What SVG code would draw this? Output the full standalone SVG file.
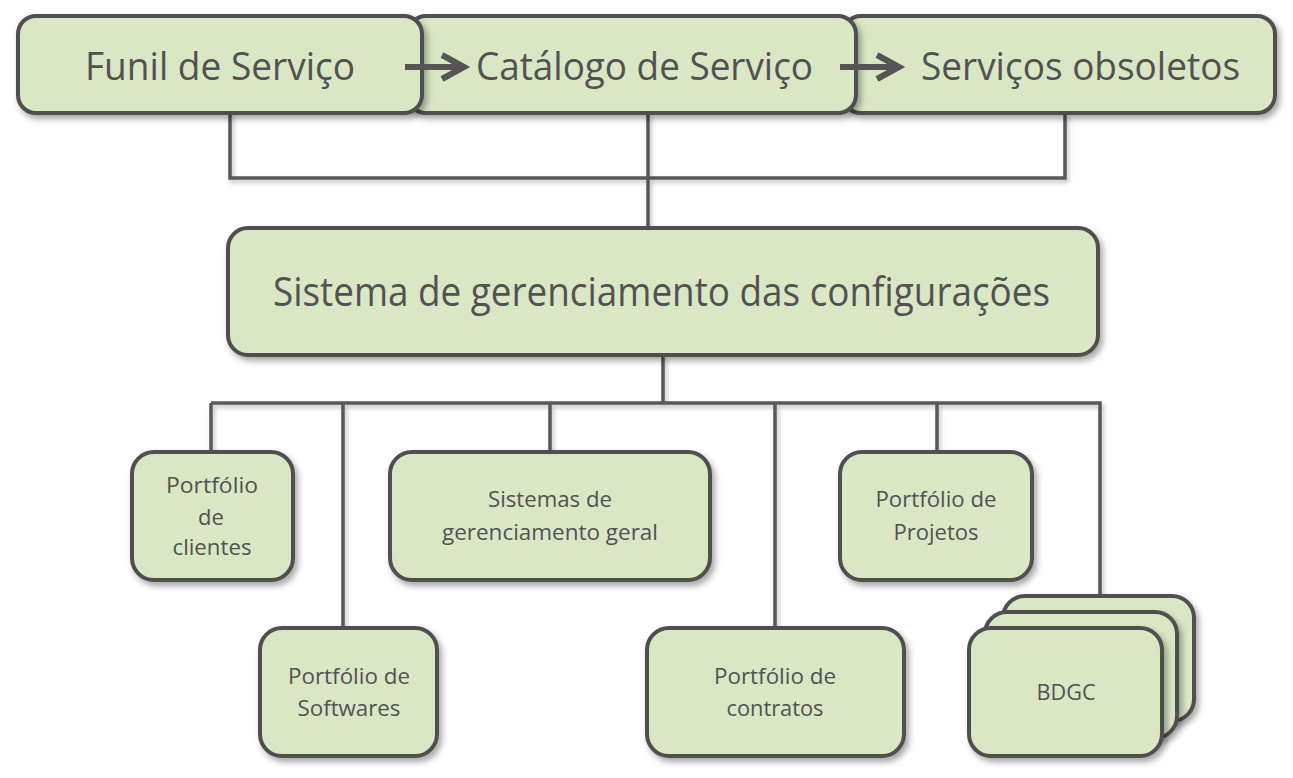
<svg xmlns="http://www.w3.org/2000/svg" width="1293" height="778" viewBox="0 0 1293 778">
<defs>
<filter id="sh" x="-10%" y="-10%" width="130%" height="140%">
<feDropShadow dx="3" dy="4" stdDeviation="3" flood-color="#000" flood-opacity="0.35"/>
</filter>
<filter id="lsh" x="-5%" y="-5%" width="110%" height="120%">
<feDropShadow dx="2" dy="3" stdDeviation="2" flood-color="#000" flood-opacity="0.25"/>
</filter>
</defs>
<style>
.box{fill:#d9e7c4;stroke:#505050;stroke-width:4;filter:url(#sh)}
.ln{fill:none;stroke:#585858;stroke-width:3.5;filter:url(#lsh)}
.big{font-family:"Open Sans","Liberation Sans",sans-serif;font-size:38px;fill:#525252}
.mid{font-family:"Open Sans","Liberation Sans",sans-serif;font-size:40px;fill:#525252}
.sm{font-family:"Open Sans","Liberation Sans",sans-serif;font-size:22px;fill:#525252;text-anchor:middle}
.arr{fill:none;stroke:#555;stroke-width:6;stroke-linejoin:miter}
</style>
<rect width="1293" height="778" fill="#fff"/>
<g id="connectors">
<path class="ln" d="M230 113 V178 H1065 V113 M648 113 V228"/>
<path class="ln" d="M663 355 V403 M211 403 H1100 V597 M211 403 V452 M343 403 V628 M550 403 V452 M775 403 V628 M937 403 V452"/>
</g>
<g id="obsoletos">
<rect class="box" x="843" y="16" width="432" height="97" rx="18"/>
<text class="big" x="921" y="80" textLength="319" lengthAdjust="spacingAndGlyphs">Serviços obsoletos</text>
</g>
<g id="catalogo">
<rect class="box" x="408" y="16" width="448" height="97" rx="18"/>
<text class="big" x="476" y="80" textLength="337" lengthAdjust="spacingAndGlyphs">Catálogo de Serviço</text>
</g>
<g id="funil">
<rect class="box" x="18" y="16" width="404" height="97" rx="18"/>
<text class="big" x="85" y="80" textLength="270" lengthAdjust="spacingAndGlyphs">Funil de Serviço</text>
</g>
<g id="arrows">
<path class="arr" d="M405 67 H462 M442 55 L464 67 L442 79"/>
<path class="arr" d="M840 67 H897 M877 55 L899 67 L877 79"/>
</g>
<g id="sistema">
<rect class="box" x="228" y="228" width="870" height="127" rx="20"/>
<text class="mid" x="273" y="306" textLength="777" lengthAdjust="spacingAndGlyphs">Sistema de gerenciamento das configurações</text>
</g>
<g id="clientes">
<rect class="box" x="132" y="452" width="161" height="128" rx="22"/>
<text class="sm" x="212" y="493" textLength="92" lengthAdjust="spacingAndGlyphs">Portfólio</text>
<text class="sm" x="211" y="525">de</text>
<text class="sm" x="212" y="555" textLength="79" lengthAdjust="spacingAndGlyphs">clientes</text>
</g>
<g id="geral">
<rect class="box" x="390" y="452" width="320" height="128" rx="22"/>
<text class="sm" x="550" y="507" textLength="124" lengthAdjust="spacingAndGlyphs">Sistemas de</text>
<text class="sm" x="550" y="540" textLength="216" lengthAdjust="spacingAndGlyphs">gerenciamento geral</text>
</g>
<g id="projetos">
<rect class="box" x="840" y="452" width="192" height="128" rx="22"/>
<text class="sm" x="936" y="507" textLength="121" lengthAdjust="spacingAndGlyphs">Portfólio de</text>
<text class="sm" x="936" y="540" textLength="85" lengthAdjust="spacingAndGlyphs">Projetos</text>
</g>
<g id="softwares">
<rect class="box" x="260" y="628" width="177" height="128" rx="22"/>
<text class="sm" x="349" y="684" textLength="122" lengthAdjust="spacingAndGlyphs">Portfólio de</text>
<text class="sm" x="349" y="716" textLength="103" lengthAdjust="spacingAndGlyphs">Softwares</text>
</g>
<g id="contratos">
<rect class="box" x="647" y="628" width="257" height="128" rx="22"/>
<text class="sm" x="775" y="684" textLength="122" lengthAdjust="spacingAndGlyphs">Portfólio de</text>
<text class="sm" x="775" y="716" textLength="97" lengthAdjust="spacingAndGlyphs">contratos</text>
</g>
<g id="bdgc">
<rect class="box" x="1003" y="596" width="191" height="125" rx="22"/>
<rect class="box" x="985" y="612" width="192" height="126" rx="22"/>
<rect class="box" x="969" y="628" width="193" height="128" rx="22"/>
<text class="sm" x="1066" y="700" textLength="59" lengthAdjust="spacingAndGlyphs">BDGC</text>
</g>
</svg>
